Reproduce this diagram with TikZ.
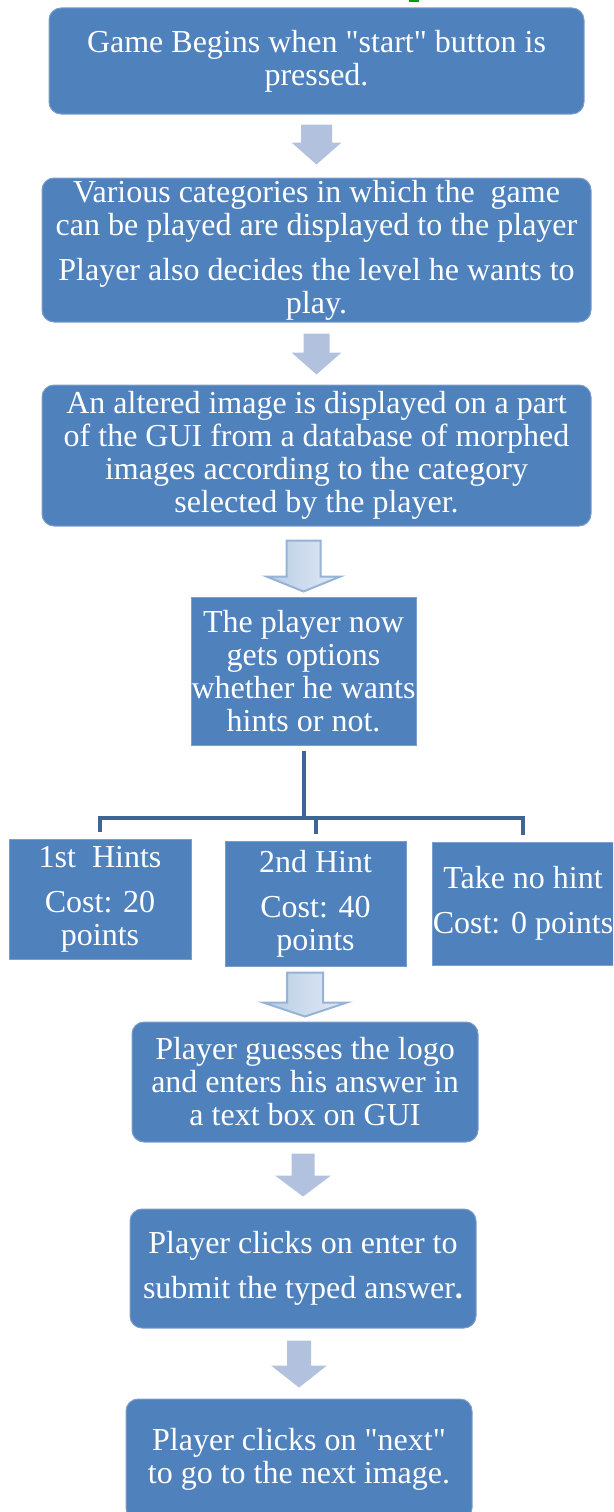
\documentclass[tikz,border=0pt]{standalone}
\usepackage{fontspec}
\setmainfont{Liberation Serif}[Ligatures=TeXOff]
\usetikzlibrary{calc}

\definecolor{boxblue}{RGB}{79,129,189}
\definecolor{boxedge}{RGB}{125,158,205}
\definecolor{arrblue}{RGB}{178,194,222}
\definecolor{arredge}{RGB}{149,179,215}
\definecolor{arrlight}{RGB}{226,234,245}
\definecolor{arrdark}{RGB}{184,204,228}
\definecolor{linkblue}{RGB}{61,101,150}
\definecolor{markgreen}{RGB}{0,160,0}

% block arrow: style, upper node, lower node, gap top, gap bottom,
% half shaft, half head, head length
\newcommand\flowarr[8]{%
  \path[#1] let \p1=(#2.south), \p2=(#3.north) in
    (\x2-#6pt,\y1-#4pt) -- (\x2+#6pt,\y1-#4pt) -- (\x2+#6pt,\y2+#5pt+#8pt)
    -- (\x2+#7pt,\y2+#5pt+#8pt) -- (\x2,\y2+#5pt) -- (\x2-#7pt,\y2+#5pt+#8pt)
    -- (\x2-#6pt,\y2+#5pt+#8pt) -- cycle;}

\begin{document}
\begin{tikzpicture}[x=1pt,y=-1pt,line width=1pt,
  font=\fontsize{32}{33}\selectfont,
  box/.style={fill=boxblue,draw=boxedge,text=white,align=center,inner sep=0pt},
  rbox/.style={box,rounded corners=12pt},
  link/.style={draw=linkblue,line width=4pt},
  plainarr/.style={fill=arrblue},
  shadearr/.style={draw=arredge,line width=2pt,left color=arrdark,right color=arrlight}]
\useasboundingbox (0,0) rectangle (613,1512);
\clip (0,0) rectangle (613,1512);
\fill[markgreen] (409,0) rectangle (419,2);

\node[rbox,minimum width=535,minimum height=106] (start) at (316.5,61)
  {Game Begins when "start" button is\\pressed.};
\node[rbox,minimum width=549,minimum height=144] (cats) at (316.5,250)
  {Various categories in which the~ game\\can be played are displayed to the player\\[12pt]Player also decides the level he wants to\\play.};
\node[rbox,minimum width=549,minimum height=141] (shown) at (316.5,455.5)
  {An altered image is displayed on a part\\of the GUI from a database of morphed\\images according to the category\\selected by the player.};
\node[box,minimum width=225,minimum height=148] (opts) at (303.5,671)
  {The player now\\gets options\\whether he wants\\hints or not.};
\node[box,minimum width=182,minimum height=120] (hint1) at (100,899)
  {1st~ Hints\\[12pt]Cost: 20\\points};
\node[box,minimum width=181,minimum height=125] (hint2) at (315.5,903.5)
  {2nd Hint\\[12pt]Cost: 40\\points};
\node[box,minimum width=180,minimum height=123] (nohint) at (523,903.5)
  {Take no hint\\[12pt]Cost: 0 points};
\node[rbox,minimum width=346,minimum height=120] (guess) at (305,1082)
  {Player guesses the logo\\and enters his answer in\\a text box on GUI};
\node[rbox,minimum width=346,minimum height=119] (submit) at (303,1268.5)
  {Player clicks on enter to\\[12pt]submit the typed answer{\bfseries .}};
\node[rbox,minimum width=346,minimum height=121] (next) at (299,1459.5)
  {Player clicks on "next"\\to go to the next image.};

\flowarr{plainarr}{start}{cats}{10}{13}{15.5}{25}{22}
\flowarr{plainarr}{cats}{shown}{11}{10}{13}{25}{22}
\flowarr{shadearr}{shown}{opts}{14}{5}{17}{37}{15}
\flowarr{shadearr}{hint2}{guess}{6}{5}{18}{42}{14}
\flowarr{plainarr}{guess}{submit}{11}{12}{11.5}{28}{21}
\flowarr{plainarr}{submit}{next}{12}{11}{12}{28}{22}

\draw[link] ([yshift=-5pt]opts.south) -- (opts.south |- 0,818) coordinate (fork);
\draw[link,shorten >=7pt] (fork) -| (hint1.north);
\draw[link,shorten >=7pt] (fork) -| (hint2.north);
\draw[link,shorten >=7pt] (fork) -| (nohint.north);
\end{tikzpicture}
\end{document}
